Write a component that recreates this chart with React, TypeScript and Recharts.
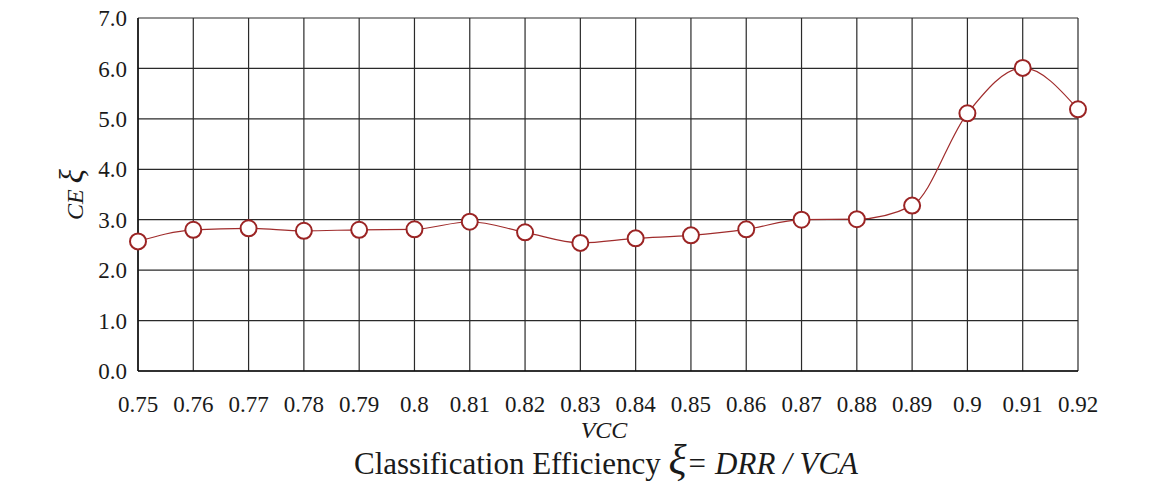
import { LineChart, Line, XAxis, YAxis, CartesianGrid, Label } from "recharts";

const vccLabels = ["0.75", "0.76", "0.77", "0.78", "0.79", "0.8", "0.81", "0.82", "0.83", "0.84", "0.85", "0.86", "0.87", "0.88", "0.89", "0.9", "0.91", "0.92"];
const ceValues = [2.57, 2.8, 2.83, 2.78, 2.8, 2.81, 2.96, 2.75, 2.54, 2.63, 2.69, 2.81, 3.0, 3.01, 3.28, 5.11, 6.01, 5.19];
const yTicks = [0, 1, 2, 3, 4, 5, 6, 7];

const data = vccLabels.map((vcc, i) => ({ vcc, ce: ceValues[i] }));

const serif = "'Liberation Serif', 'DejaVu Serif', serif";

const formatTick = (v: number) => v.toFixed(1);

// x axis: "VCC" caption plus the figure title underneath
const XCaption = (props: any) => {
  const { x, y, width } = props.viewBox;
  const cx = x + width / 2;
  return (
    <g fontFamily={serif} fill="#1a1a1a">
      <text x={cx - 4} y={y + 67} textAnchor="middle" fontSize={24} fontStyle="italic">
        VCC
      </text>
      <text x={cx - 2} y={y + 103} textAnchor="middle" fontSize={31}>
        <tspan>Classification Efficiency </tspan>
        <tspan fontSize={42} fontStyle="italic">ξ</tspan>
        <tspan fontStyle="italic">= DRR / VCA</tspan>
      </text>
    </g>
  );
};

const YCaption = (props: any) => {
  const { y, height } = props.viewBox;
  const cy = y + height / 2;
  return (
    <text
      x={83}
      y={cy}
      transform={`rotate(-90, 83, ${cy})`}
      textAnchor="middle"
      fontFamily={serif}
      fill="#1a1a1a"
      fontSize={24}
      fontStyle="italic"
    >
      <tspan>CE </tspan>
      <tspan fontSize={33}>ξ</tspan>
    </text>
  );
};

export default function App() {
  return (
    <div style={{ position: "absolute", left: 0, top: 0, background: "#fff" }}>
      <LineChart width={1150} height={483} data={data} margin={{ top: 18, right: 72, left: 0, bottom: 0 }}>
        <CartesianGrid stroke="#2a2a2a" strokeWidth={1.2} />
        <XAxis
          dataKey="vcc"
          height={112}
          tickSize={0}
          tickMargin={25}
          axisLine={{ stroke: "#111", strokeWidth: 1.5 }}
          tick={{ fontSize: 23, fontFamily: serif, fill: "#1a1a1a" }}
          interval={0}
        >
          <Label content={XCaption} />
        </XAxis>
        <YAxis
          width={138}
          domain={[0, 7]}
          ticks={yTicks}
          tickFormatter={formatTick}
          tickSize={0}
          tickMargin={11}
          axisLine={{ stroke: "#111", strokeWidth: 1.5 }}
          tick={{ fontSize: 23, fontFamily: serif, fill: "#1a1a1a" }}
        >
          <Label content={YCaption} />
        </YAxis>
        <Line
          type="monotone"
          dataKey="ce"
          stroke="#a02c2c"
          strokeWidth={1.2}
          dot={{ r: 8, fill: "#fff", stroke: "#9b2424", strokeWidth: 2 }}
          activeDot={false}
          isAnimationActive={false}
        />
      </LineChart>
    </div>
  );
}
